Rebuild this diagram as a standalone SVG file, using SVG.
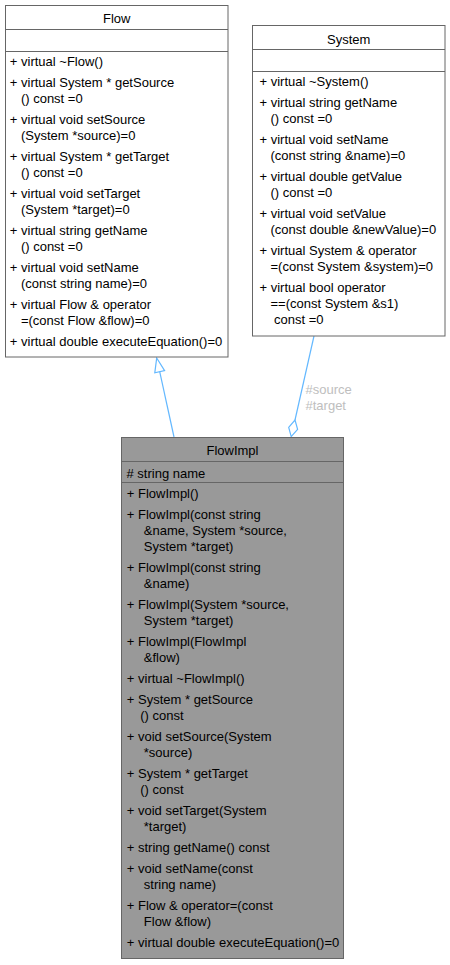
<svg xmlns="http://www.w3.org/2000/svg" width="450" height="965" viewBox="0 0 450 965">
<style>
  .box{stroke:#666666;stroke-width:1;}
  .div{stroke:#666666;stroke-width:1;fill:none;}
  text{font-family:"Liberation Sans",Arial,Helvetica,sans-serif;font-size:13px;fill:#000000;}
  .title{text-anchor:middle;}
  .lbl{fill:#bebebe;}
  .edge{stroke:#63b8ff;stroke-width:1.2;fill:none;}
</style>
<rect width="450" height="965" fill="#ffffff"/>
<g id="connectors">
  <line class="edge" x1="174" y1="437" x2="159.7" y2="371.7"/>
  <polygon class="edge" fill="#ffffff" points="156.7,358 164.6,370.6 154.8,372.8"/>
  <line class="edge" x1="314" y1="336" x2="295" y2="420"/>
  <polygon class="edge" fill="#ffffff" points="295,420 297.6,429.3 291.2,436.6 288.7,427.3"/>
  <text class="lbl" x="305.5" y="394">#source</text>
  <text class="lbl" x="305.5" y="409.5">#target</text>
</g>
<g id="Flow">
  <rect class="box" x="5.5" y="5.5" width="222.5" height="351.5" fill="#ffffff"/>
  <line class="div" x1="5.5" y1="29.5" x2="228" y2="29.5"/>
  <line class="div" x1="5.5" y1="51.5" x2="228" y2="51.5"/>
  <text class="title" x="116.7" y="22.5">Flow</text>
  <text x="9.8" y="65.5">+ virtual ~Flow()</text>
  <text x="9.8" y="86.5">+ virtual System * getSource</text>
  <text x="20.9" y="102.5">() const =0</text>
  <text x="9.8" y="123.5">+ virtual void setSource</text>
  <text x="20.9" y="139.5">(System *source)=0</text>
  <text x="9.8" y="160.5">+ virtual System * getTarget</text>
  <text x="20.9" y="176.5">() const =0</text>
  <text x="9.8" y="197.5">+ virtual void setTarget</text>
  <text x="20.9" y="213.5">(System *target)=0</text>
  <text x="9.8" y="234.5">+ virtual string getName</text>
  <text x="20.9" y="250.5">() const =0</text>
  <text x="9.8" y="271.5">+ virtual void setName</text>
  <text x="20.9" y="287.5">(const string name)=0</text>
  <text x="9.8" y="308.5">+ virtual Flow &amp; operator</text>
  <text x="20.9" y="324.5">=(const Flow &amp;flow)=0</text>
  <text x="9.8" y="345.5">+ virtual double executeEquation()=0</text>
</g>
<g id="System">
  <rect class="box" x="252.5" y="25.5" width="192.5" height="310.5" fill="#ffffff"/>
  <line class="div" x1="252.5" y1="49.5" x2="445" y2="49.5"/>
  <line class="div" x1="252.5" y1="71.5" x2="445" y2="71.5"/>
  <text class="title" x="348.7" y="44">System</text>
  <text x="259.5" y="85.5">+ virtual ~System()</text>
  <text x="259.5" y="106.5">+ virtual string getName</text>
  <text x="270.5" y="122.5">() const =0</text>
  <text x="259.5" y="143.5">+ virtual void setName</text>
  <text x="270.5" y="159.5">(const string &amp;name)=0</text>
  <text x="259.5" y="180.5">+ virtual double getValue</text>
  <text x="270.5" y="196.5">() const =0</text>
  <text x="259.5" y="217.5">+ virtual void setValue</text>
  <text x="270.5" y="233.5">(const double &amp;newValue)=0</text>
  <text x="259.5" y="254.5">+ virtual System &amp; operator</text>
  <text x="270.5" y="270.5">=(const System &amp;system)=0</text>
  <text x="259.5" y="291.5">+ virtual bool operator</text>
  <text x="270.5" y="307.5">==(const System &amp;s1)</text>
  <text x="274.1" y="323.5">const =0</text>
</g>
<g id="FlowImpl">
  <rect class="box" x="121.5" y="437.5" width="222" height="521" fill="#999999"/>
  <line class="div" x1="121.5" y1="461.5" x2="343.5" y2="461.5"/>
  <line class="div" x1="121.5" y1="482.5" x2="343.5" y2="482.5"/>
  <text class="title" x="232.5" y="455">FlowImpl</text>
  <text x="126.5" y="477.5"># string name</text>
  <text x="126.8" y="498">+ FlowImpl()</text>
  <text x="126.8" y="519">+ FlowImpl(const string</text>
  <text x="143.8" y="535">&amp;name, System *source,</text>
  <text x="143.8" y="551">System *target)</text>
  <text x="126.8" y="572">+ FlowImpl(const string</text>
  <text x="143.8" y="588">&amp;name)</text>
  <text x="126.8" y="609">+ FlowImpl(System *source,</text>
  <text x="143.8" y="625">System *target)</text>
  <text x="126.8" y="646">+ FlowImpl(FlowImpl</text>
  <text x="143.8" y="662">&amp;flow)</text>
  <text x="126.8" y="683">+ virtual ~FlowImpl()</text>
  <text x="126.8" y="704">+ System * getSource</text>
  <text x="140.2" y="720">() const</text>
  <text x="126.8" y="741">+ void setSource(System</text>
  <text x="143.8" y="757">*source)</text>
  <text x="126.8" y="778">+ System * getTarget</text>
  <text x="140.2" y="794">() const</text>
  <text x="126.8" y="815">+ void setTarget(System</text>
  <text x="143.8" y="831">*target)</text>
  <text x="126.8" y="852">+ string getName() const</text>
  <text x="126.8" y="873">+ void setName(const</text>
  <text x="143.8" y="889">string name)</text>
  <text x="126.8" y="910">+ Flow &amp; operator=(const</text>
  <text x="143.8" y="926">Flow &amp;flow)</text>
  <text x="126.8" y="947">+ virtual double executeEquation()=0</text>
</g>
</svg>
